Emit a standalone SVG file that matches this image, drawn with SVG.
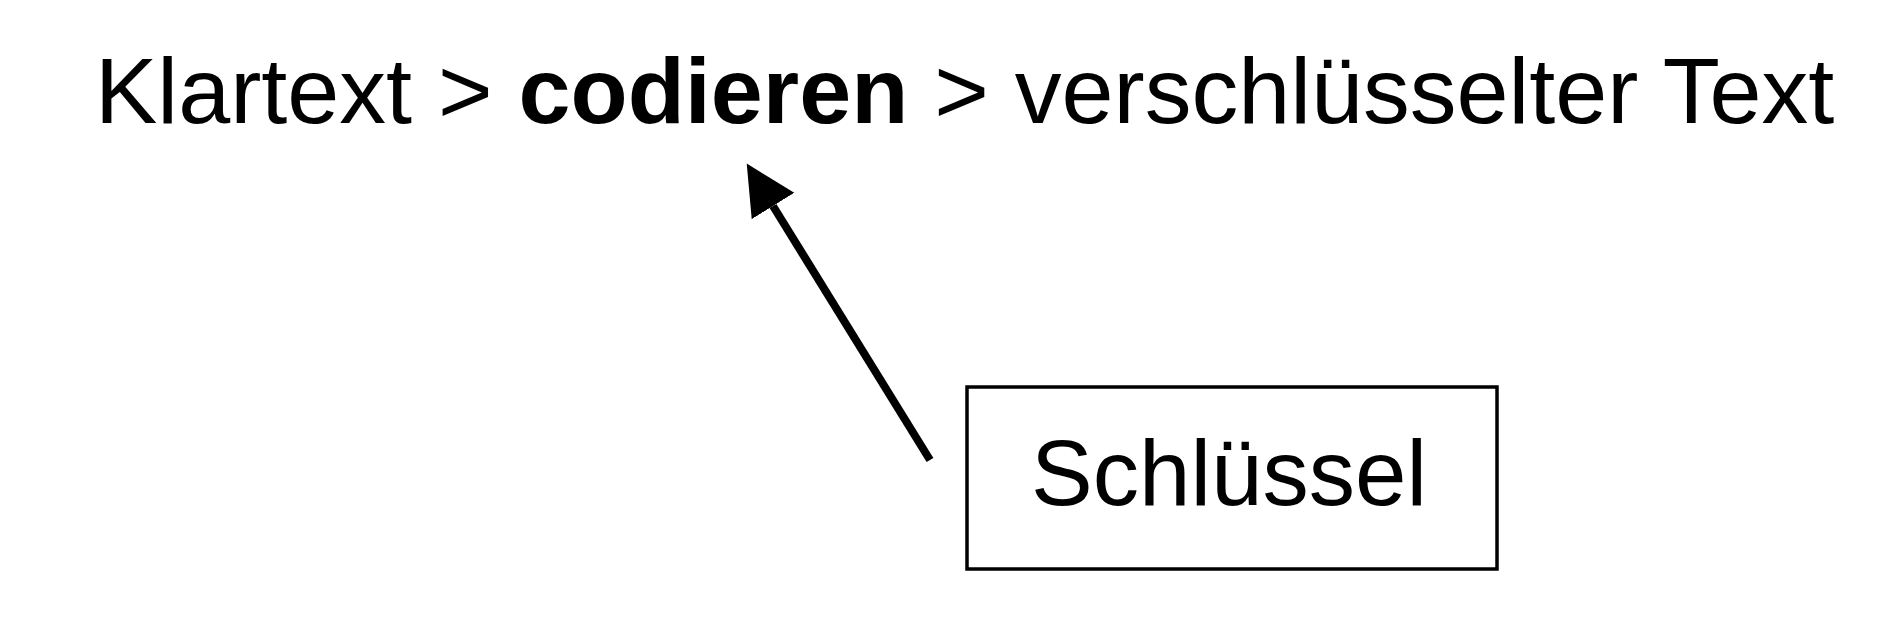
<svg xmlns="http://www.w3.org/2000/svg" width="1890" height="638" viewBox="0 0 1890 638">
  <defs>
    <style>
      .t { font-family: "Liberation Sans", Arial, sans-serif; fill: #000; }
      .box { fill: #fff; stroke: #000; stroke-width: 3.5; }
      .conn { stroke: #000; stroke-width: 8; fill: none; }
    </style>
    <marker id="head" markerUnits="userSpaceOnUse" markerWidth="52" markerHeight="52" refX="0" refY="25" orient="auto">
      <path d="M0,0 L50,25 L0,50 Z" fill="#000"/>
    </marker>
  </defs>
  <rect width="1890" height="638" fill="#fff"/>
  <g id="title">
    <text class="t" x="95" y="123" font-size="93.5">Klartext &gt; <tspan font-weight="bold">codieren</tspan> &gt; verschlüsselter Text</text>
  </g>
  <g id="schluessel">
    <rect class="box" x="967" y="387" width="530" height="182"/>
    <text class="t" x="1229" y="505" font-size="92.5" text-anchor="middle">Schlüssel</text>
  </g>
  <g id="connectors">
    <line class="conn" x1="930" y1="460" x2="773" y2="206" marker-end="url(#head)"/>
  </g>
</svg>
